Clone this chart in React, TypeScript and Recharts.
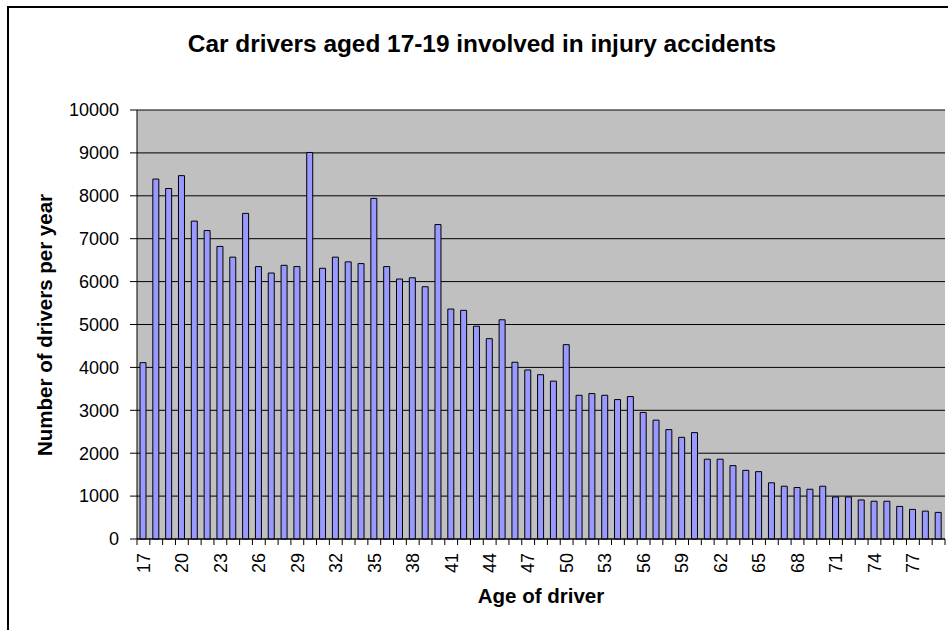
import React from "react";
import { BarChart, Bar, CartesianGrid, XAxis, YAxis } from "recharts";

const ages = [
  17, 18, 19, 20, 21, 22, 23, 24, 25, 26, 27, 28, 29, 30, 31, 32, 33, 34, 35, 36, 37,
  38, 39, 40, 41, 42, 43, 44, 45, 46, 47, 48, 49, 50, 51, 52, 53, 54, 55, 56, 57, 58,
  59, 60, 61, 62, 63, 64, 65, 66, 67, 68, 69, 70, 71, 72, 73, 74, 75, 76, 77, 78, 79,
];

const drivers = [
  4110, 8390, 8170, 8470, 7410, 7190, 6820, 6570, 7590, 6350, 6200, 6380, 6350, 9010, 6310,
  6570, 6460, 6420, 7940, 6350, 6060, 6090, 5880, 7330, 5360, 5330, 4960, 4670, 5110, 4120,
  3940, 3830, 3680, 4530, 3350, 3390, 3350, 3250, 3320, 2950, 2770, 2550, 2370, 2480, 1860,
  1860, 1710, 1600, 1570, 1310, 1230, 1200, 1160, 1230, 980, 980, 910, 880, 880, 760, 690,
  650, 620,
];

const yTicks = [0, 1000, 2000, 3000, 4000, 5000, 6000, 7000, 8000, 9000, 10000];

const data = ages.map((age, i) => ({ age, drivers: drivers[i] }));

const FONT = "Arial, 'Liberation Sans', sans-serif";

// Excel-style: tick marks sit between categories, labels on every third age
function AgeTick(props: any) {
  const { x, y, payload, index } = props;
  const half = payload?.offset ?? 808 / ages.length / 2;
  return (
    <g>
      <line x1={x - half} x2={x - half} y1={y} y2={y + 6} stroke="#000" />
      {index === ages.length - 1 && (
        <line x1={x + half} x2={x + half} y1={y} y2={y + 6} stroke="#000" />
      )}
      {index % 3 === 0 && (
        <text
          transform={`translate(${x},${y + 14}) rotate(-90)`}
          textAnchor="end"
          dy="0.35em"
          fontSize={18}
          fontFamily={FONT}
          fill="#000"
        >
          {payload.value}
        </text>
      )}
    </g>
  );
}

export default function App() {
  return (
    <div
      style={{
        position: "absolute",
        left: 0,
        top: 0,
        width: 948,
        height: 630,
        overflow: "hidden",
        background: "#fff",
        fontFamily: FONT,
      }}
    >
      <div
        style={{
          position: "absolute",
          left: 7,
          top: 6,
          width: 941,
          height: 624,
          borderLeft: "2px solid #000",
          borderTop: "2px solid #000",
        }}
      />
      <div style={{ position: "absolute", left: 0, top: 0 }}>
        <BarChart
          width={948}
          height={630}
          data={data}
          margin={{ top: 110, right: 3, bottom: 0, left: 0 }}
          barSize={6}
        >
          <CartesianGrid
            vertical={false}
            stroke="#000"
            fill="#C0C0C0"
            fillOpacity={1}
          />
          <XAxis
            dataKey="age"
            interval={0}
            height={91}
            tickSize={0}
            tickMargin={0}
            tickLine={false}
            axisLine={{ stroke: "#000" }}
            tick={<AgeTick />}
          />
          <XAxis
            xAxisId="frame"
            dataKey="age"
            orientation="top"
            height={0}
            tick={false}
            tickLine={false}
            axisLine={{ stroke: "#808080" }}
          />
          <YAxis
            width={137}
            domain={[0, 10000]}
            ticks={yTicks}
            interval={0}
            tickSize={7}
            tickMargin={11}
            axisLine={{ stroke: "#000" }}
            tickLine={{ stroke: "#000" }}
            tick={{ fontSize: 18, fill: "#000", fontFamily: FONT }}
          />
          <YAxis
            yAxisId="frame"
            orientation="right"
            width={0}
            domain={[0, 10000]}
            tick={false}
            tickLine={false}
            axisLine={{ stroke: "#808080" }}
          />
          <Bar
            dataKey="drivers"
            fill="#9999FF"
            stroke="#000"
            strokeWidth={1}
            isAnimationActive={false}
          />
        </BarChart>
      </div>
      <svg
        width={948}
        height={630}
        style={{ position: "absolute", left: 0, top: 0, pointerEvents: "none" }}
      >
        <text x={482} y={52} textAnchor="middle" fontSize={24.4} fontWeight="bold" fontFamily={FONT}>
          Car drivers aged 17-19 involved in injury accidents
        </text>
        <text
          transform="translate(52,325) rotate(-90)"
          textAnchor="middle"
          fontSize={20.5}
          fontWeight="bold"
          fontFamily={FONT}
        >
          Number of drivers per year
        </text>
        <text x={541} y={603} textAnchor="middle" fontSize={20.5} fontWeight="bold" fontFamily={FONT}>
          Age of driver
        </text>
      </svg>
    </div>
  );
}
